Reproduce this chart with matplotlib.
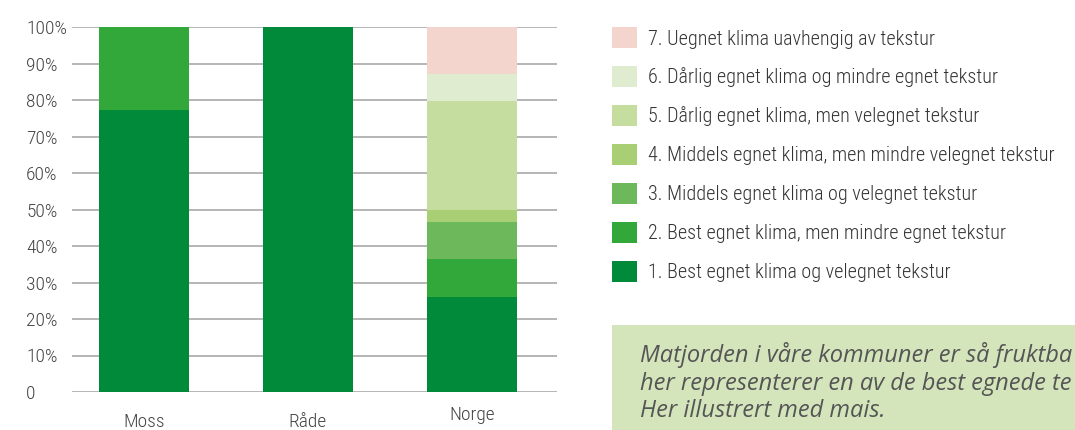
import matplotlib.pyplot as plt
from matplotlib.patches import Rectangle
from matplotlib.transforms import ScaledTranslation

regions = ['Moss', 'Råde', 'Norge']

# andel per klasse (prosent), 1 = nederst
klasse_1 = [77.3, 100.0, 26.1]
klasse_2 = [22.7, 0.0, 10.3]
klasse_3 = [0.0, 0.0, 10.2]
klasse_4 = [0.0, 0.0, 3.3]
klasse_5 = [0.0, 0.0, 29.8]
klasse_6 = [0.0, 0.0, 7.5]
klasse_7 = [0.0, 0.0, 12.8]

labels = [
    '1. Best egnet klima og velegnet tekstur',
    '2. Best egnet klima, men mindre egnet tekstur',
    '3. Middels egnet klima og velegnet tekstur',
    '4. Middels egnet klima, men mindre velegnet tekstur',
    '5. Dårlig egnet klima, men velegnet tekstur',
    '6. Dårlig egnet klima og mindre egnet tekstur',
    '7. Uegnet klima uavhengig av tekstur',
]
colors = ['#008a3a', '#33a83a', '#6db85a', '#a8cf74', '#c5dea0', '#e0ecd0', '#f3d5ce']

ytick_vals = [0, 10, 20, 30, 40, 50, 60, 70, 80, 90, 100]
ytick_labels = ['0', '10%', '20%', '30%', '40%', '50%', '60%', '70%', '80%', '90%', '100%']

note = ('Matjorden i våre kommuner er så fruktba\n'
        'her representerer en av de best egnede te\n'
        'Her illustrert med mais.')

plt.rcParams['font.family'] = ['Roboto Condensed', 'DejaVu Sans']
plt.rcParams['font.weight'] = 300

fig = plt.figure(figsize=(10.75, 4.3), dpi=100)
ax = fig.add_axes([72 / 1075, 38 / 430, (557 - 72) / 1075, (392 - 27) / 430])

series = [klasse_1, klasse_2, klasse_3, klasse_4, klasse_5, klasse_6, klasse_7]
x = list(range(len(regions)))
bottom = [0.0] * len(regions)
handles = []
for vals, c, lab in zip(series, colors, labels):
    b = ax.bar(x, vals, bottom=bottom, width=0.55, color=c, label=lab, zorder=3)
    handles.append(b)
    bottom = [bo + v for bo, v in zip(bottom, vals)]

ax.set_xlim(-0.44, 2.52)
ax.set_ylim(0, 100)
ax.set_yticks(ytick_vals)
ax.set_yticklabels(ytick_labels)
ax.yaxis.grid(True, color='#b0b0b0', linewidth=1.3, zorder=0)
ax.set_axisbelow(True)
for s in ax.spines.values():
    s.set_visible(False)
ax.tick_params(axis='both', length=0, colors='#444444', labelsize=14)
ax.tick_params(axis='y', pad=33)
for t in ax.get_yticklabels():
    t.set_horizontalalignment('left')
ax.set_xticks(x)
ax.set_xticklabels(regions)
ax.tick_params(axis='x', pad=15)
# Norge-etiketten står litt høyere i originalen
norge = ax.get_xticklabels()[2]
norge.set_transform(norge.get_transform() + ScaledTranslation(0, 0.07, fig.dpi_scale_trans))

fig.legend(handles[::-1], labels[::-1], loc='upper left',
           bbox_to_anchor=(594 / 1075, 1 - 9 / 430), frameon=False,
           fontsize=14.5, handlelength=1.25, handleheight=1.25,
           labelspacing=0.87, handletextpad=0.55, labelcolor='#333333')

fig.add_artist(Rectangle((612 / 1075, 0), 1 - 612 / 1075, 105 / 430,
                         transform=fig.transFigure, facecolor='#d5e5bb',
                         edgecolor='none', zorder=0))
fig.text(640 / 1075, 1 - 342 / 430, note, ha='left', va='top',
         fontsize=17, style='italic', stretch='normal', weight='normal',
         color='#555555', family=['Open Sans', 'DejaVu Sans'], linespacing=1.2)

fig.savefig('out.png', dpi=100)
